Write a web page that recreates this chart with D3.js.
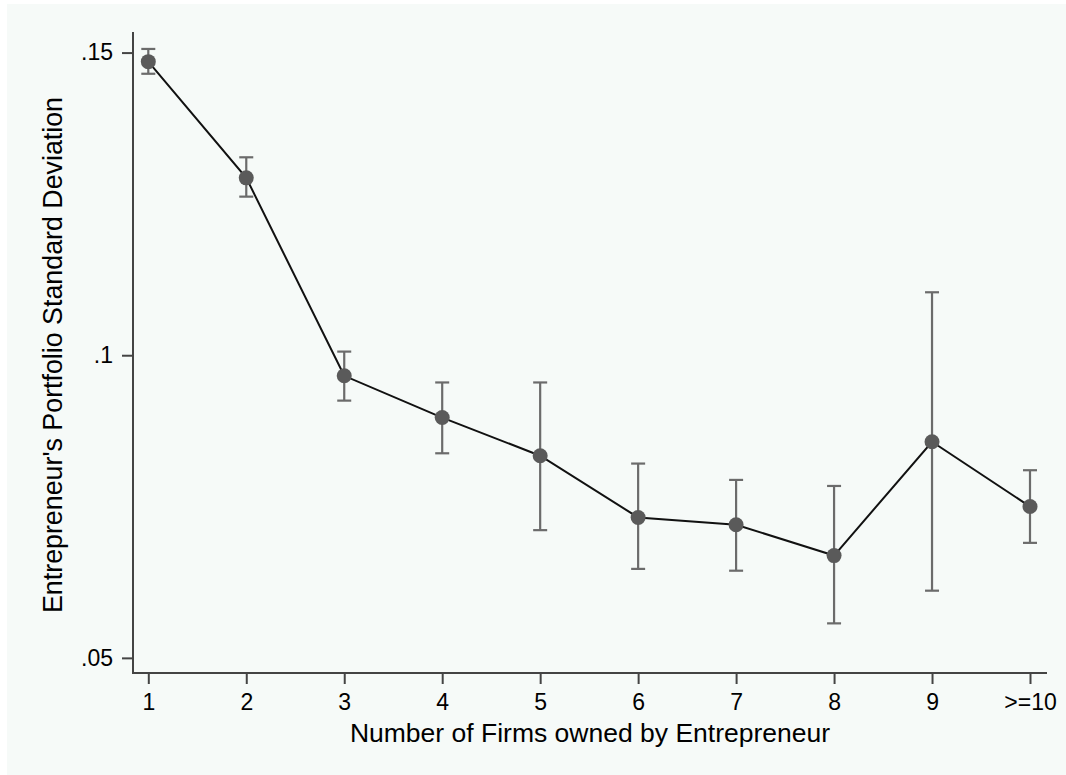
<!DOCTYPE html>
<html>
<head>
<meta charset="utf-8">
<script src="https://cdn.jsdelivr.net/npm/d3@7"></script>
<style>
  body { margin: 0; background: #ffffff; }
  text { font-family: "Liberation Sans", Arial, Helvetica, sans-serif; fill: #000; }
</style>
</head>
<body>
<svg id="chart"></svg>
<script>
// values
const categories = ['1', '2', '3', '4', '5', '6', '7', '8', '9', '>=10']
const means = [0.1485, 0.1293, 0.0966, 0.0897, 0.0834, 0.0732, 0.0720, 0.0669, 0.0857, 0.0750]
const upper = [0.1506, 0.1327, 0.1006, 0.0955, 0.0955, 0.0821, 0.0794, 0.0784, 0.1104, 0.0810]
const lower = [0.1465, 0.1262, 0.0925, 0.0838, 0.0711, 0.0647, 0.0644, 0.0557, 0.0611, 0.0690]
const yTicks = [0.05, 0.1, 0.15]

const xTitle = 'Number of Firms owned by Entrepreneur'
const yTitle = "Entrepreneur's Portfolio Standard Deviation"

const w = 1066
const h = 775

const padL = 133   // y axis position
const padR = 1047  // end of x axis
const padT = 32    // top of y axis
const padB = 673   // x axis position

let svg = d3.select('#chart')
    .attr('width', w)
    .attr('height', h)

// light plot region
svg.append('rect')
   .attr('x', 7)
   .attr('y', 4)
   .attr('width', w - 7)
   .attr('height', h - 4)
   .attr('fill', '#f6faf8')

let xScale = d3.scalePoint()
               .domain(categories)
               .range([148.3, 1030])

let yScale = d3.scaleLinear()
               .domain([0.0475, 0.1534])
               .range([padB, padT])

let rows = categories.map((c, i) => ({ c: c, m: means[i], hi: upper[i], lo: lower[i] }))

// axes
let xAxis = d3.axisBottom(xScale)
              .tickSize(11)
              .tickPadding(10)

let yAxis = d3.axisLeft(yScale)
              .tickValues(yTicks)
              .tickSize(11)
              .tickPadding(9)
              .tickFormat(d => String(d).replace(/^0/, ''))

let gx = svg.append('g')
   .attr('transform', 'translate(0,' + padB + ')')
   .call(xAxis)

let gy = svg.append('g')
   .attr('transform', 'translate(' + padL + ',0)')
   .call(yAxis)

for (let g of [gx, gy]) {
    g.select('.domain').remove()
    g.selectAll('.tick line').attr('stroke', '#444').attr('stroke-width', 2)
    g.selectAll('.tick text')
     .style('font-size', '23px')
     .attr('fill', '#000')
     .style('font-family', '"Liberation Sans", Arial, sans-serif')
}

svg.append('line')
   .attr('x1', padL).attr('x2', padR)
   .attr('y1', padB).attr('y2', padB)
   .attr('stroke', '#444').attr('stroke-width', 2)

svg.append('line')
   .attr('x1', padL).attr('x2', padL)
   .attr('y1', padT).attr('y2', padB + 1)
   .attr('stroke', '#444').attr('stroke-width', 2)

// error bars
let bars = svg.append('g')
              .attr('stroke', '#6b6b6b')
              .attr('stroke-width', 2.2)

bars.selectAll('.eb')
    .data(rows)
    .enter()
    .append('line')
    .attr('x1', d => xScale(d.c))
    .attr('x2', d => xScale(d.c))
    .attr('y1', d => yScale(d.hi))
    .attr('y2', d => yScale(d.lo))

bars.selectAll('.cap-hi')
    .data(rows)
    .enter()
    .append('line')
    .attr('x1', d => xScale(d.c) - 7)
    .attr('x2', d => xScale(d.c) + 7)
    .attr('y1', d => yScale(d.hi))
    .attr('y2', d => yScale(d.hi))

bars.selectAll('.cap-lo')
    .data(rows)
    .enter()
    .append('line')
    .attr('x1', d => xScale(d.c) - 7)
    .attr('x2', d => xScale(d.c) + 7)
    .attr('y1', d => yScale(d.lo))
    .attr('y2', d => yScale(d.lo))

// connecting line
let line = d3.line()
             .x(d => xScale(d.c))
             .y(d => yScale(d.m))

svg.append('path')
   .datum(rows)
   .attr('d', line)
   .attr('fill', 'none')
   .attr('stroke', '#111')
   .attr('stroke-width', 2)

// markers
svg.selectAll('circle')
   .data(rows)
   .enter()
   .append('circle')
   .attr('cx', d => xScale(d.c))
   .attr('cy', d => yScale(d.m))
   .attr('r', 7.5)
   .attr('fill', '#5a5a5a')

// titles
svg.append('text')
   .attr('x', (padL + padR) / 2)
   .attr('y', 741.5)
   .attr('text-anchor', 'middle')
   .style('font-size', '26.5px')
   .text(xTitle)

svg.append('text')
   .attr('transform', 'translate(61.5,355) rotate(-90)')
   .attr('text-anchor', 'middle')
   .style('font-size', '26.8px')
   .text(yTitle)
</script>
</body>
</html>
